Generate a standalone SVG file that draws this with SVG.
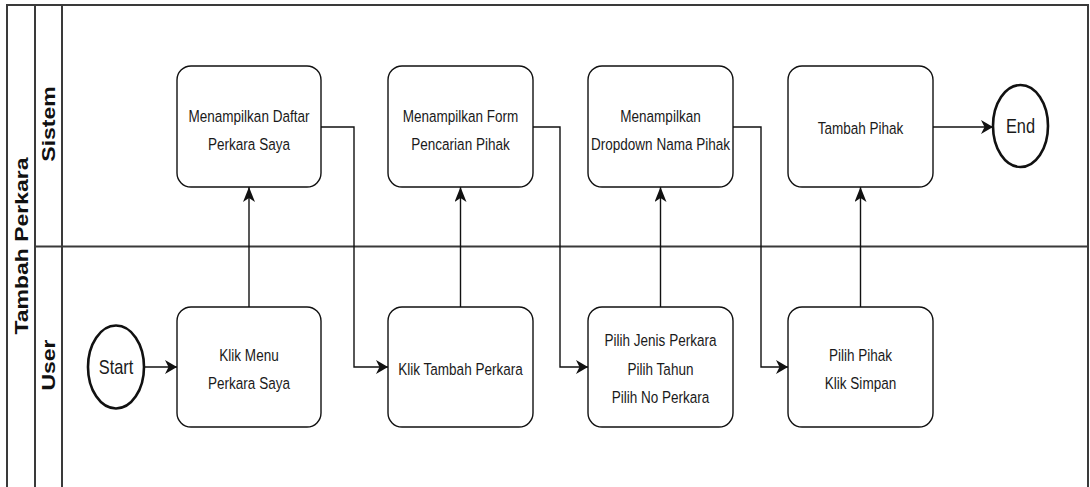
<svg xmlns="http://www.w3.org/2000/svg" width="1090" height="487" viewBox="0 0 1090 487">
  <defs>
    <style>
      .lane { fill: none; stroke: #3a3a3a; stroke-width: 2; }
      .box { fill: #ffffff; stroke: #111111; stroke-width: 1.4; }
      .term { fill: #ffffff; stroke: #111111; stroke-width: 2.6; }
      .conn { fill: none; stroke: #111111; stroke-width: 1.4; }
      .t { font-family: "Liberation Sans", Arial, sans-serif; font-size: 16.5px; fill: #1a1a1a; text-anchor: middle; }
      .tt { font-family: "Liberation Sans", Arial, sans-serif; font-size: 20px; fill: #1a1a1a; text-anchor: middle; }
      .lbl { font-family: "Liberation Sans", Arial, sans-serif; font-size: 23px; font-weight: bold; fill: #111111; text-anchor: middle; }
    </style>
    <marker id="ah" markerUnits="userSpaceOnUse" viewBox="0 0 12 14" markerWidth="12" markerHeight="14" refX="12" refY="7" orient="auto">
      <path d="M0,0 L12,7 L0,14 L3.5,7 Z" fill="#111111"/>
    </marker>
    <marker id="av" markerUnits="userSpaceOnUse" viewBox="0 0 15 12" markerWidth="15" markerHeight="12" refX="15" refY="6" orient="auto">
      <path d="M0,0 L15,6 L0,12 L4,6 Z" fill="#111111"/>
    </marker>
  </defs>

  <rect x="0" y="0" width="1090" height="487" fill="#ffffff"/>

  <g id="pool">
    <rect class="lane" x="7" y="5" width="1081" height="483"/>
    <line class="lane" x1="35" y1="5" x2="35" y2="487"/>
    <line class="lane" x1="62" y1="5" x2="62" y2="487"/>
    <line class="lane" x1="35" y1="246.5" x2="1088" y2="246.5"/>
    <text class="lbl" transform="translate(28,246) scale(0.82,1) rotate(-90)">Tambah Perkara</text>
    <text class="lbl" transform="translate(55,124) scale(0.82,1) rotate(-90)">Sistem</text>
    <text class="lbl" transform="translate(55,365) scale(0.82,1) rotate(-90)">User</text>
  </g>

  <g id="connectors">
    <path class="conn" d="M144,367 H177" marker-end="url(#ah)"/>
    <path class="conn" d="M249,307 V187" marker-end="url(#av)"/>
    <path class="conn" d="M321,127 H354 V367 H388" marker-end="url(#ah)"/>
    <path class="conn" d="M460.5,307 V187" marker-end="url(#av)"/>
    <path class="conn" d="M533,127 H560 V367 H588" marker-end="url(#ah)"/>
    <path class="conn" d="M660.5,307 V187" marker-end="url(#av)"/>
    <path class="conn" d="M733,127 H761 V367 H788" marker-end="url(#ah)"/>
    <path class="conn" d="M860.5,307 V187" marker-end="url(#av)"/>
    <path class="conn" d="M933,127 H993" marker-end="url(#ah)"/>
  </g>

  <g id="start">
    <ellipse class="term" cx="116" cy="367" rx="28" ry="41.5"/>
    <g transform="translate(116,0) scale(0.82,1)"><text class="tt" x="0" y="374">Start</text></g>
  </g>

  <g id="klik-menu">
    <rect class="box" x="177" y="307" width="144" height="120" rx="14"/>
    <g transform="translate(249,0) scale(0.82,1)">
      <text class="t" x="0" y="361">Klik Menu</text>
      <text class="t" x="0" y="389">Perkara Saya</text>
    </g>
  </g>

  <g id="tampil-daftar">
    <rect class="box" x="177" y="66" width="144" height="121" rx="14"/>
    <g transform="translate(249,0) scale(0.82,1)">
      <text class="t" x="0" y="122">Menampilkan Daftar</text>
      <text class="t" x="0" y="150">Perkara Saya</text>
    </g>
  </g>

  <g id="klik-tambah">
    <rect class="box" x="388" y="307" width="145" height="120" rx="14"/>
    <g transform="translate(460.5,0) scale(0.82,1)">
      <text class="t" x="0" y="375">Klik Tambah Perkara</text>
    </g>
  </g>

  <g id="tampil-form">
    <rect class="box" x="388" y="66" width="145" height="121" rx="14"/>
    <g transform="translate(460.5,0) scale(0.82,1)">
      <text class="t" x="0" y="122">Menampilkan Form</text>
      <text class="t" x="0" y="150">Pencarian Pihak</text>
    </g>
  </g>

  <g id="pilih-jenis">
    <rect class="box" x="588" y="307" width="145" height="120" rx="14"/>
    <g transform="translate(660.5,0) scale(0.82,1)">
      <text class="t" x="0" y="346">Pilih Jenis Perkara</text>
      <text class="t" x="0" y="375">Pilih Tahun</text>
      <text class="t" x="0" y="403">Pilih No Perkara</text>
    </g>
  </g>

  <g id="tampil-dropdown">
    <rect class="box" x="588" y="66" width="145" height="121" rx="14"/>
    <g transform="translate(660.5,0) scale(0.82,1)">
      <text class="t" x="0" y="122">Menampilkan</text>
      <text class="t" x="0" y="150">Dropdown Nama Pihak</text>
    </g>
  </g>

  <g id="pilih-pihak">
    <rect class="box" x="788" y="307" width="145" height="120" rx="14"/>
    <g transform="translate(860.5,0) scale(0.82,1)">
      <text class="t" x="0" y="361">Pilih Pihak</text>
      <text class="t" x="0" y="389">Klik Simpan</text>
    </g>
  </g>

  <g id="tambah-pihak">
    <rect class="box" x="788" y="66" width="145" height="121" rx="14"/>
    <g transform="translate(860.5,0) scale(0.82,1)">
      <text class="t" x="0" y="134">Tambah Pihak</text>
    </g>
  </g>

  <g id="end">
    <ellipse class="term" cx="1020.5" cy="126" rx="27.5" ry="41"/>
    <g transform="translate(1020.5,0) scale(0.82,1)"><text class="tt" x="0" y="133">End</text></g>
  </g>
</svg>
